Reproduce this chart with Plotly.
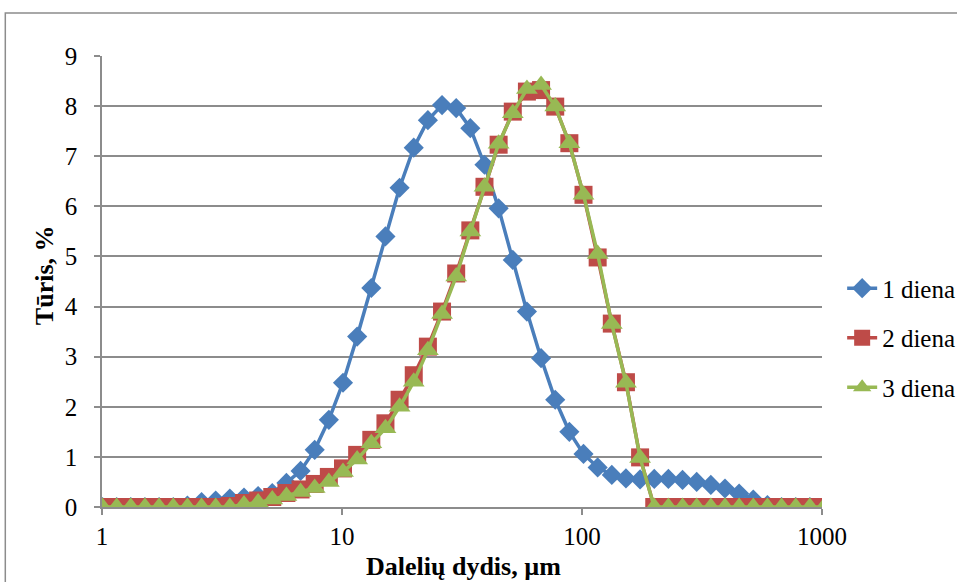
import plotly.graph_objects as go

# Particle size classes, µm
sizes = [1.005, 1.151, 1.318, 1.510, 1.729, 1.981, 2.269, 2.599, 2.976, 3.409,
         3.905, 4.472, 5.122, 5.867, 6.720, 7.696, 8.815, 10.097, 11.565, 13.246,
         15.172, 17.377, 19.904, 22.797, 26.111, 29.907, 34.255, 39.234, 44.938, 51.471,
         58.953, 67.523, 77.339, 88.583, 101.46, 116.21, 133.103, 152.453, 174.616, 200.0,
         229.075, 262.376, 300.518, 344.206, 394.244, 451.556, 517.2, 592.387, 678.504, 777.141,
         890.116, 1019.515]

day1 = [0, 0, 0, 0, 0, 0, 0.03, 0.10, 0.13, 0.17,
        0.19, 0.22, 0.28, 0.48, 0.72, 1.14, 1.74, 2.48, 3.40, 4.37,
        5.40, 6.37, 7.17, 7.72, 8.02, 7.96, 7.56, 6.83, 5.96, 4.93,
        3.90, 2.97, 2.14, 1.50, 1.06, 0.79, 0.64, 0.57, 0.55, 0.56,
        0.56, 0.54, 0.50, 0.44, 0.37, 0.27, 0.15, 0.04, 0, 0,
        0, 0]

day2 = [0, 0, 0, 0, 0, 0, 0, 0, 0, 0.02,
        0.08, 0.13, 0.20, 0.28, 0.35, 0.46, 0.60, 0.77, 1.04, 1.34,
        1.67, 2.14, 2.63, 3.20, 3.90, 4.66, 5.52, 6.39, 7.23, 7.89,
        8.29, 8.32, 7.99, 7.26, 6.23, 4.98, 3.66, 2.49, 0.99, 0,
        0, 0, 0, 0, 0, 0, 0, 0, 0, 0,
        0, 0]

day3 = [0, 0, 0, 0, 0, 0, 0, 0, 0, 0,
        0.05, 0.09, 0.15, 0.22, 0.30, 0.38, 0.50, 0.70, 0.95, 1.27,
        1.57, 2.00, 2.50, 3.13, 3.85, 4.60, 5.50, 6.39, 7.25, 7.86,
        8.34, 8.42, 7.99, 7.26, 6.23, 5.05, 3.65, 2.48, 0.98, 0,
        0, 0, 0, 0, 0, 0, 0, 0, 0, 0,
        0, 0]

series_names = ["1 diena", "2 diena", "3 diena"]
x_ticks = [1, 10, 100, 1000]
y_ticks = [0, 1, 2, 3, 4, 5, 6, 7, 8, 9]

FONT = "Liberation Serif, Times New Roman, serif"
GRID = "#8c8c8c"
TICK_SIZE = 25
TITLE_SIZE = 26

fig = go.Figure()
styles = [
    dict(color="#4A7EBB", symbol="diamond", size=15.5),
    dict(color="#BE4B48", symbol="square", size=18),
    dict(color="#98B954", symbol="triangle-up", size=19),
]
for name, vals, st in zip(series_names, [day1, day2, day3], styles):
    fig.add_trace(go.Scatter(
        x=sizes, y=vals, name=name, mode="lines+markers",
        legendgroup=name,
        line=dict(color=st["color"], width=3.5),
        marker=dict(color=st["color"], symbol=st["symbol"], size=st["size"],
                    line=dict(width=0)),
    ))

fig.update_layout(
    width=957, height=582,
    margin=dict(l=102, r=135, t=56, b=75, autoexpand=False),
    paper_bgcolor="white", plot_bgcolor="white",
    font=dict(family=FONT, size=TICK_SIZE, color="black"),
    showlegend=True,
    legend=dict(x=1.028, xanchor="left", y=0.375, yanchor="middle",
                traceorder="grouped", tracegroupgap=14,
                font=dict(family=FONT, size=TICK_SIZE, color="black"),
                bgcolor="rgba(0,0,0,0)"),
    xaxis=dict(type="log", range=[0, 3], tickvals=x_ticks,
               ticktext=[str(v) for v in x_ticks],
               showgrid=False, zeroline=False,
               showline=True, linecolor=GRID, linewidth=1.5,
               ticks="outside", ticklen=6, tickcolor=GRID, tickwidth=1.5,
               ticklabelstandoff=0,
               tickfont=dict(family=FONT, size=TICK_SIZE, color="black")),
    yaxis=dict(range=[0, 9], tickvals=y_ticks,
               showgrid=True, gridcolor=GRID, gridwidth=1.5,
               zeroline=False,
               showline=True, linecolor=GRID, linewidth=1.5,
               ticks="outside", ticklen=6, tickcolor=GRID, tickwidth=1.5,
               ticklabelstandoff=12,
               tickfont=dict(family=FONT, size=TICK_SIZE, color="black")),
    annotations=[
        dict(text="<b>Tūris, %</b>", xref="paper", yref="paper",
             x=-0.080, y=0.515, xanchor="center", yanchor="middle",
             textangle=-90, showarrow=False,
             font=dict(family=FONT, size=TITLE_SIZE, color="black")),
        dict(text="<b>Dalelių dydis, µm</b>", xref="paper", yref="paper",
             x=0.502, y=-0.133, xanchor="center", yanchor="middle",
             showarrow=False,
             font=dict(family=FONT, size=TITLE_SIZE, color="black")),
    ],
    shapes=[
        dict(type="rect", xref="paper", yref="paper",
             x0=-0.1343, x1=1.6, y0=-0.6, y1=1.0953,
             line=dict(color="#8c8c8c", width=1.5), fillcolor="rgba(0,0,0,0)",
             layer="below"),
    ],
)

fig.write_html("out.html")
